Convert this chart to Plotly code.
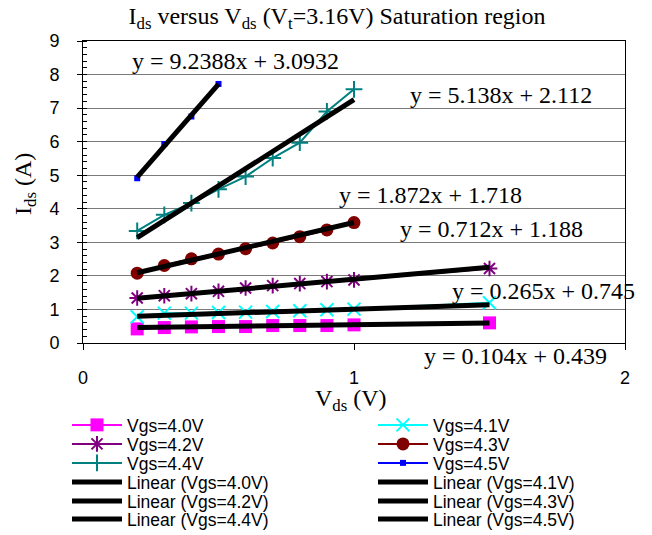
import plotly.graph_objects as go

# Drain-source voltage sweeps (V)
vds_short = [0.2, 0.3, 0.4, 0.5]
vds = [0.2, 0.3, 0.4, 0.5, 0.6, 0.7, 0.8, 0.9, 1.0]
vds_ext = [0.2, 0.3, 0.4, 0.5, 0.6, 0.7, 0.8, 0.9, 1.0, 1.5]

# Measured drain current (A) for each gate voltage
ids_40 = [0.42, 0.46, 0.48, 0.49, 0.49, 0.52, 0.52, 0.52, 0.54, 0.60]
ids_41 = [0.78, 0.89, 0.89, 0.91, 0.92, 0.94, 0.96, 0.99, 1.01, 1.20]
ids_42 = [1.34, 1.41, 1.47, 1.54, 1.64, 1.71, 1.77, 1.83, 1.88, 2.22]
ids_43 = [2.08, 2.31, 2.51, 2.65, 2.81, 2.98, 3.17, 3.37, 3.59]
ids_44 = [3.34, 3.82, 4.17, 4.58, 4.96, 5.51, 5.97, 6.90, 7.56]
ids_45 = [4.91, 5.93, 6.75, 7.72]

vgs_names = ["Vgs=4.0V", "Vgs=4.1V", "Vgs=4.2V", "Vgs=4.3V", "Vgs=4.4V", "Vgs=4.5V"]

# Linear fits  y = m*x + c
fit_slopes = [0.104, 0.265, 0.712, 1.872, 5.138, 9.2388]
fit_intercepts = [0.439, 0.745, 1.188, 1.718, 2.112, 3.0932]
# Where each fit equation is printed (data coordinates)
eq_x = [1.596, 1.70, 1.509, 1.284, 1.542, 0.561]
eq_y = [-0.40, 1.54, 3.40, 4.41, 7.39, 8.40]

y_ticks = [0, 1, 2, 3, 4, 5, 6, 7, 8, 9]
x_ticks = [0, 1, 2]
Y_MAX = 9

series_x = [vds_ext, vds_ext, vds_ext, vds, vds, vds_short]
series_y = [ids_40, ids_41, ids_42, ids_43, ids_44, ids_45]
colors = ["#FF00FF", "#00FFFF", "#800080", "#800000", "#008080", "#0000FF"]
markers = [
    dict(symbol="square", size=13, color="#FF00FF"),
    dict(symbol="x-thin", size=13, color="#00FFFF", line=dict(color="#00FFFF", width=2)),
    dict(symbol="asterisk", size=13, color="#800080", line=dict(color="#800080", width=2)),
    dict(symbol="circle", size=13, color="#800000"),
    dict(symbol="cross-thin", size=12, color="#008080", line=dict(color="#008080", width=2)),
    dict(symbol="square", size=6, color="#0000FF"),
]

SERIF = "Liberation Serif, Times New Roman, serif"
SANS = "Liberation Sans, Arial, sans-serif"

W, H = 652, 535
M_L, M_R, M_T, M_B = 83, 27, 41, 192
PW, PH = W - M_L - M_R, H - M_T - M_B


def paper_x(px):
    return (px - M_L) / PW


def paper_y(py):
    return (H - M_B - py) / PH


# legend slots: two columns, six rows (pixel position of the entry text)
ITEM_W = 50
col_text_x = [127, 433]
row_y = [425, 444, 463, 482, 501, 519]

fig = go.Figure()
legend_layout = {}


def legend_slot(k):
    name = "legend" if k == 0 else f"legend{k + 1}"
    col, row = k % 2, k // 2
    legend_layout[name] = dict(
        x=(col_text_x[col] - ITEM_W - 10) / W, y=1 - row_y[row] / H,
        xref="container", yref="container",
        xanchor="left", yanchor="middle", itemwidth=ITEM_W,
        bgcolor="rgba(0,0,0,0)", borderwidth=0,
        font=dict(family=SANS, size=17.5, color="black"),
    )
    return name


k = 0
for xs, ys, c, m, nm in zip(series_x, series_y, colors, markers, vgs_names):
    fig.add_trace(go.Scatter(
        x=xs, y=ys, mode="lines+markers", name=nm,
        line=dict(color=c, width=2), marker=m,
        legend=legend_slot(k), showlegend=True,
    ))
    k += 1

for xs, m_, c_, nm in zip(series_x, fit_slopes, fit_intercepts, vgs_names):
    xf = [min(xs), max(xs)]
    yf = [m_ * v + c_ for v in xf]
    fig.add_trace(go.Scatter(
        x=xf, y=yf, mode="lines", name=f"Linear ({nm})",
        line=dict(color="black", width=5),
        legend=legend_slot(k), showlegend=True,
    ))
    k += 1

for m_, c_, ex, ey in zip(fit_slopes, fit_intercepts, eq_x, eq_y):
    fig.add_annotation(
        x=ex, y=ey / Y_MAX, xref="x", yref="paper", text=f"y = {m_}x + {c_}",
        showarrow=False, xanchor="center", yanchor="middle",
        font=dict(family=SERIF, size=24, color="black"),
    )

# axis titles
fig.add_annotation(
    x=paper_x(351), y=paper_y(400), xref="paper", yref="paper",
    text="V<sub>ds</sub> (V)", showarrow=False, xanchor="center", yanchor="middle",
    font=dict(family=SERIF, size=24, color="black"),
)
fig.add_annotation(
    x=paper_x(25), y=paper_y(184), xref="paper", yref="paper",
    text="I<sub>ds</sub> (A)", showarrow=False, textangle=-90,
    xanchor="center", yanchor="middle",
    font=dict(family=SERIF, size=24, color="black"),
)

fig.update_layout(
    width=W, height=H,
    margin=dict(l=M_L, r=M_R, t=M_T, b=M_B, autoexpand=False),
    paper_bgcolor="white", plot_bgcolor="white",
    title=dict(
        text="I<sub>ds</sub> versus V<sub>ds</sub> (V<sub>t</sub>=3.16V) Saturation region",
        x=337 / W, y=1 - 16 / H, xref="container", yref="container",
        xanchor="center", yanchor="middle",
        font=dict(family=SERIF, size=24, color="black"),
    ),
    **legend_layout,
)

fig.update_xaxes(
    range=[0, 2], tickvals=x_ticks, ticktext=[str(v) for v in x_ticks],
    showgrid=False, zeroline=False,
    showline=True, linecolor="black", linewidth=1, mirror=True,
    ticks="outside", ticklen=6, tickcolor="black",
    ticklabelstandoff=12,
    tickfont=dict(family=SANS, size=18, color="black"),
)
fig.update_yaxes(
    range=[0, Y_MAX], tickvals=y_ticks, ticktext=[str(v) for v in y_ticks],
    showgrid=True, gridcolor="#7a7a7a", gridwidth=1, zeroline=False,
    showline=True, linecolor="black", linewidth=1, mirror=True,
    ticks="outside", ticklen=5, tickcolor="black",
    ticklabelstandoff=14,
    minor=dict(dtick=0.2, ticks="inside", ticklen=4, tickcolor="black", showgrid=False),
    tickfont=dict(family=SANS, size=18, color="black"),
)

fig.write_html("out.html")
